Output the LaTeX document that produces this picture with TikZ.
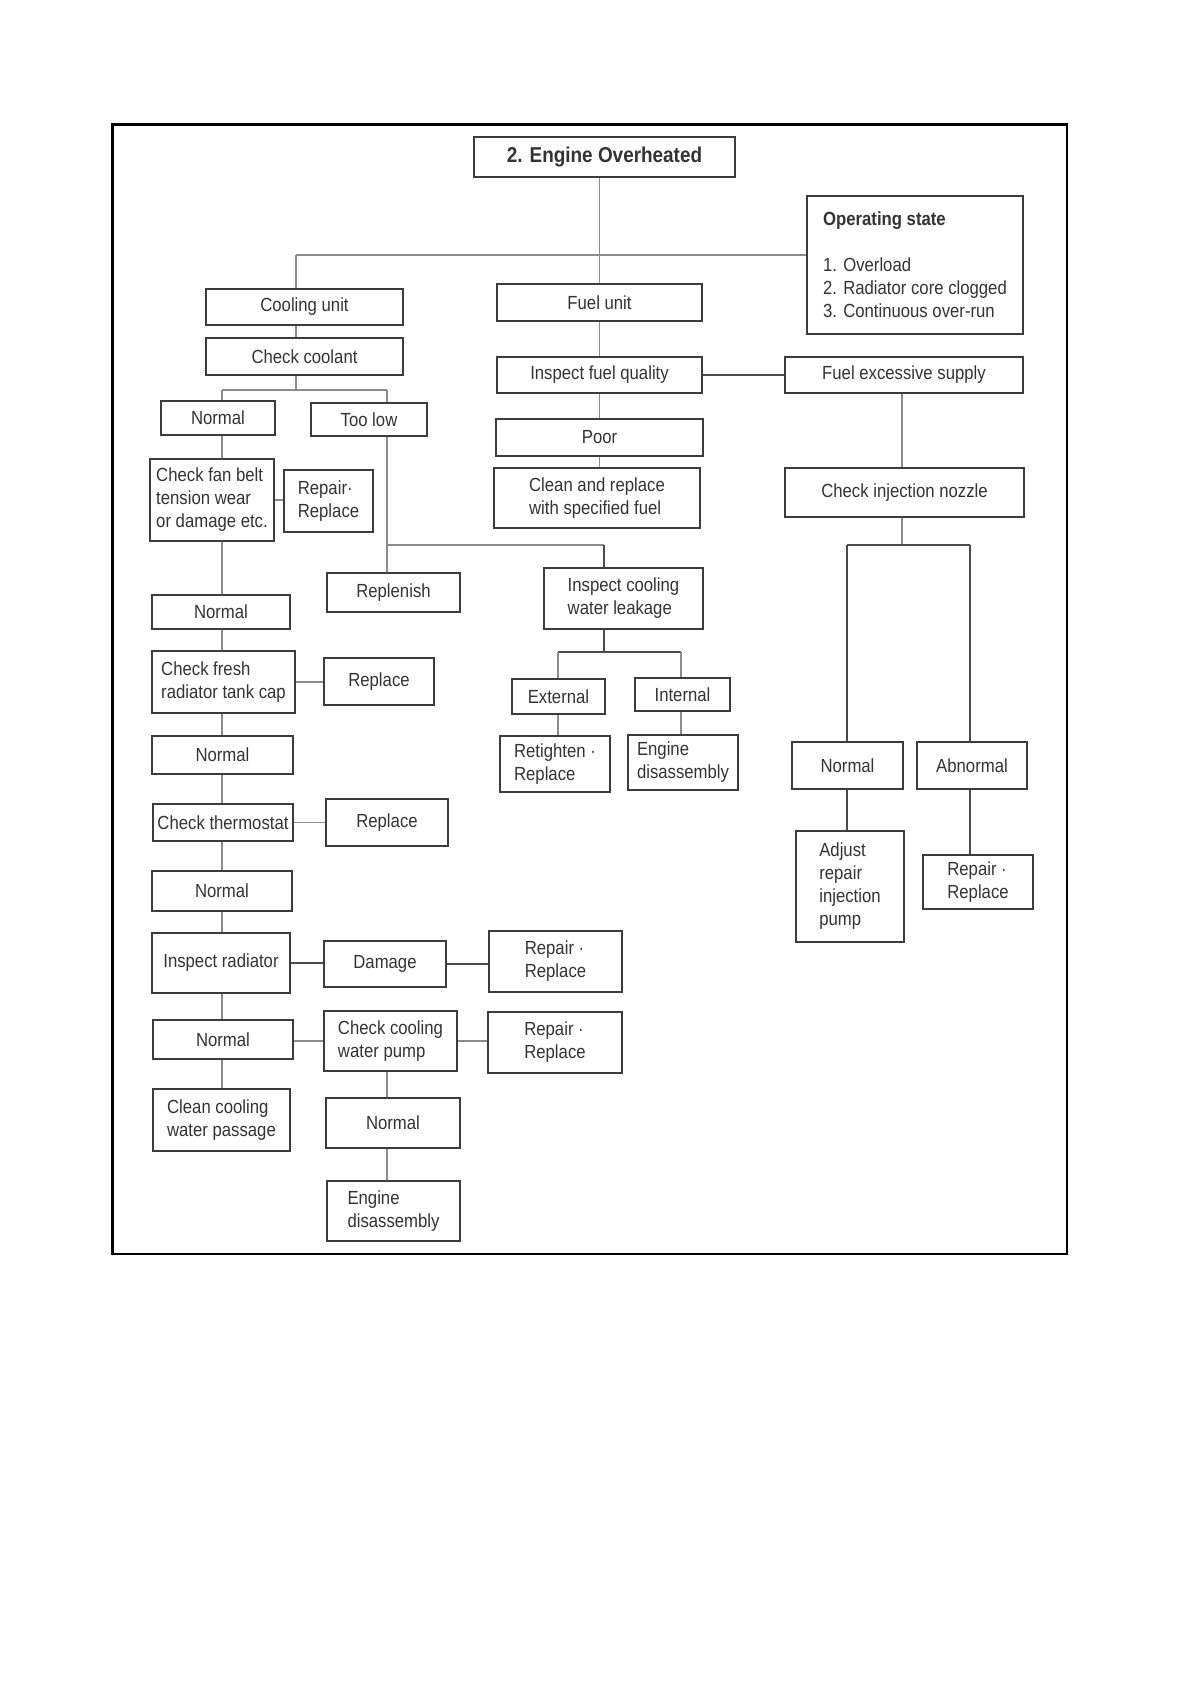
\documentclass[tikz,border=0pt]{standalone}
\usepackage{fontspec}
\setmainfont{Liberation Sans}[FakeStretch=0.88]
\definecolor{boxc}{HTML}{3C3C3C}
\definecolor{txtc}{HTML}{333333}
\definecolor{lightc}{HTML}{8C8C8C}
\definecolor{darkc}{HTML}{4A4A4A}
\newcommand\fsnorm{\fontsize{19pt}{23pt}\selectfont}
\newcommand\mybox[6]{\node[box, minimum width={#4pt-#2pt}, minimum height={#5pt-#3pt}] (#1) at ({(#2+#4)/2},{(#3+#5)/2}) {#6};}
\begin{document}
\begin{tikzpicture}[x=1pt,y=-1pt,
  box/.style={draw=boxc, line width=1.8pt, inner sep=0pt, align=left, text=txtc, font=\fsnorm},
  conn/.style={draw=lightc, line width=1.9pt},
  connd/.style={draw=darkc, line width=1.9pt},
  frame/.style={draw=black, line width=2.6pt}]
\useasboundingbox (0,0) rectangle (1191,1684);
\draw[frame] (112.3,124.3) rectangle (1067,1254);

% ---- boxes ----
\mybox{title}{474}{137}{735}{177}{\fontsize{21.5pt}{24pt}\selectfont\bfseries 2. Engine Overheated}
\mybox{opstate}{807}{196}{1023}{334}{{\bfseries Operating state}\\[23pt]1. Overload\\2. Radiator core clogged\\3. Continuous over-run}
\mybox{cooling}{206}{289}{403}{325}{Cooling unit}
\mybox{fuel}{497}{284}{702}{321}{Fuel unit}
\mybox{coolant}{206}{338}{403}{375}{Check coolant}
\mybox{ifq}{497}{357}{702}{393}{Inspect fuel quality}
\mybox{fes}{785}{357}{1023}{393}{Fuel excessive supply}
\mybox{normala}{161}{401}{275}{435}{Normal}
\mybox{toolow}{311}{403}{427}{436}{Too low}
\mybox{poor}{496}{419}{703}{456}{Poor}
\mybox{clean}{494}{468}{700}{528}{Clean and replace\\with specified fuel}
\mybox{cin}{785}{468}{1024}{517}{Check injection nozzle}
\mybox{fanbelt}{150}{459}{274}{541}{Check fan belt\\tension wear\\or damage etc.}
\mybox{rra}{284}{470}{373}{532}{Repair·\\Replace}
\mybox{replenish}{327}{573}{460}{612}{Replenish}
\mybox{icwl}{544}{568}{703}{629}{Inspect cooling\\water leakage}
\mybox{normalb}{152}{595}{290}{629}{Normal}
\mybox{cap}{152}{651}{295}{713}{Check fresh\\radiator tank cap}
\mybox{replacea}{324}{658}{434}{705}{Replace}
\mybox{external}{512}{679}{605}{714}{External}
\mybox{internal}{635}{678}{730}{711}{Internal}
\mybox{retighten}{500}{736}{610}{792}{Retighten ·\\Replace}
\mybox{engdisa}{628}{735}{738}{790}{Engine\\disassembly}
\mybox{cnormal}{792}{742}{903}{789}{Normal}
\mybox{abnormal}{917}{742}{1027}{789}{Abnormal}
\mybox{normalc}{152}{736}{293}{774}{Normal}
\mybox{thermo}{153}{804}{293}{841}{Check thermostat}
\mybox{replaceb}{326}{799}{448}{846}{Replace}
\mybox{adjust}{796}{831}{904}{942}{Adjust\\repair\\injection\\pump}
\mybox{rrd}{923}{855}{1033}{909}{Repair ·\\Replace}
\mybox{normald}{152}{871}{292}{911}{Normal}
\mybox{radiator}{152}{933}{290}{993}{Inspect radiator}
\mybox{damage}{324}{941}{446}{987}{Damage}
\mybox{rrb}{489}{931}{622}{992}{Repair ·\\Replace}
\mybox{normale}{153}{1020}{293}{1059}{Normal}
\mybox{pump}{324}{1011}{457}{1071}{Check cooling\\water pump}
\mybox{rrc}{488}{1012}{622}{1073}{Repair ·\\Replace}
\mybox{passage}{153}{1089}{290}{1151}{Clean cooling\\water passage}
\mybox{normalf}{326}{1098}{460}{1148}{Normal}
\mybox{engdisb}{327}{1181}{460}{1241}{Engine\\disassembly}

% ---- junction coordinates ----
\coordinate (hl) at (296,255);
\coordinate (ca) at (222,390);
\coordinate (cb) at (387,390);
\coordinate (lx) at (222,0);
\coordinate (tj) at (387,545);
\coordinate (ij) at (604,545);
\coordinate (ea) at (558,652);
\coordinate (eb) at (681,652);
\coordinate (fx) at (902,0);
\coordinate (na) at (847,545);
\coordinate (nb) at (970,545);

% ---- connectors ----
\draw[conn] (title.south -| fuel.north) -- (fuel.north);
\draw[conn] (hl) -- (hl -| opstate.west);
\draw[conn] (hl) -- (hl |- cooling.north);
\draw[conn] (hl |- cooling.south) -- (hl |- coolant.north);
\draw[conn] (hl |- coolant.south) -- (hl |- ca);
\draw[conn] (ca) -- (cb);
\draw[conn] (ca) -- (ca |- normala.north);
\draw[conn] (cb) -- (cb |- toolow.north);

% fuel column
\draw[conn] (fuel.south) -- (fuel.south |- ifq.north);
\draw[connd] (ifq.east) -- (ifq.east -| fes.west);
\draw[conn] (ifq.south) -- (ifq.south |- poor.north);
\draw[conn] (poor.south -| ifq.south) -- (ifq.south |- clean.north);
\draw[conn] (fx |- fes.south) -- (fx |- cin.north);
\draw[conn] (fx |- cin.south) -- (fx |- na);
\draw[connd] (na) -- (nb);
\draw[connd] (na) -- (na |- cnormal.north);
\draw[connd] (nb) -- (nb |- abnormal.north);
\draw[connd] (na |- cnormal.south) -- (na |- adjust.north);
\draw[connd] (nb |- abnormal.south) -- (nb |- rrd.north);

% too low branch
\draw[conn] (cb |- toolow.south) -- (cb |- replenish.north);
\draw[conn] (tj) -- (ij);
\draw[connd] (ij) -- (ij |- icwl.north);
\draw[connd] (ij |- icwl.south) -- (ij |- ea);
\draw[connd] (ea) -- (eb);
\draw[conn] (ea) -- (ea |- external.north);
\draw[conn] (eb) -- (eb |- internal.north);
\draw[conn] (ea |- external.south) -- (ea |- retighten.north);
\draw[conn] (eb |- internal.south) -- (eb |- engdisa.north);

% left column
\draw[conn] (lx |- normala.south) -- (lx |- fanbelt.north);
\draw[conn] (lx |- fanbelt.south) -- (lx |- normalb.north);
\draw[conn] (lx |- normalb.south) -- (lx |- cap.north);
\draw[conn] (lx |- cap.south) -- (lx |- normalc.north);
\draw[conn] (lx |- normalc.south) -- (lx |- thermo.north);
\draw[conn] (lx |- thermo.south) -- (lx |- normald.north);
\draw[conn] (lx |- normald.south) -- (lx |- radiator.north);
\draw[conn] (lx |- radiator.south) -- (lx |- normale.north);
\draw[conn] (lx |- normale.south) -- (lx |- passage.north);

% side links
\draw[conn] (fanbelt.east) -- (fanbelt.east -| rra.west);
\draw[conn] (cap.east) -- (cap.east -| replacea.west);
\draw[conn] (thermo.east) -- (thermo.east -| replaceb.west);
\draw[connd] (radiator.east) -- (radiator.east -| damage.west);
\draw[connd] (damage.east) -- (damage.east -| rrb.west);
\draw[conn] (normale.east |- pump.west) -- (pump.west);
\draw[conn] (pump.east) -- (pump.east -| rrc.west);

% pump column
\draw[conn] (cb |- pump.south) -- (cb |- normalf.north);
\draw[conn] (cb |- normalf.south) -- (cb |- engdisb.north);
\end{tikzpicture}
\end{document}
